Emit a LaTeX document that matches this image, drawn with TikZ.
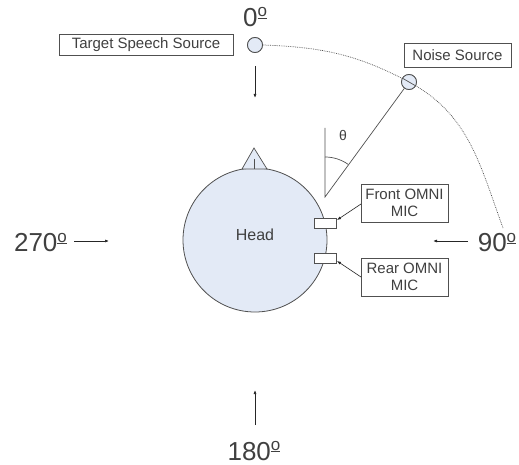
\documentclass[tikz,border=0pt]{standalone}
\usepackage{fontspec}
\setmainfont{Liberation Sans}
\usetikzlibrary{arrows.meta}
\definecolor{headfill}{HTML}{E3EAF6}
\definecolor{txt}{HTML}{404040}
\definecolor{ln}{HTML}{505050}
\newcommand{\ordo}{\raisebox{10pt}{\fontsize{17}{17}\selectfont\underline{o}}}
\begin{document}
\begin{tikzpicture}[x=1pt,y=1pt,
  lbl/.style={draw=ln,line width=0.8pt,fill=white,text=txt,inner sep=0pt,font=\fontsize{15}{17}\selectfont,align=center},
  big/.style={text=txt,font=\fontsize{26}{28}\selectfont,inner sep=0pt},
  src/.style={circle,draw=ln,fill=headfill,line width=0.8pt,minimum size=15pt,inner sep=0pt},
  mic/.style={draw=ln,fill=white,line width=0.8pt,minimum width=22pt,minimum height=10pt,inner sep=0pt},
  arr/.style={-{Latex[length=4pt,width=3pt]},line width=0.7pt,draw=black!85},
  thin/.style={line width=0.7pt,draw=ln},
  dots/.style={line width=0.7pt,draw=ln,dash pattern=on 0.8pt off 1pt}]
\useasboundingbox (0,0) rectangle (519,464);
% head
\node[circle,draw=ln,fill=headfill,line width=0.8pt,minimum size=144pt,inner sep=0pt] (head) at (255,224) {};
\node[text=txt,font=\fontsize{16}{18}\selectfont] (headlbl) at (255,229) {Head};
% nose
\coordinate (napex) at (254,316);
\coordinate (nl) at (242,295);
\coordinate (nr) at (267,295);
\coordinate (nt) at (254,305);
\coordinate (nb) at (254,295);
\draw[thin,fill=headfill] (nl) -- (napex) -- (nr) -- cycle;
\draw[thin] (nt) -- (nb);
% dotted arc
\coordinate (arcend) at (503,236);
\node[src] (tss) at (255,419) {};
\node[src] (noise) at (409,382) {};
\draw[dots] (tss.east) to[out=-2,in=152] (noise.center);
\draw[dots] (noise.center) to[out=-28,in=110] (arcend);
\node[src] (tss2) at (255,419) {};
\node[src] (noise2) at (409,382) {};
\draw[thin] (noise2.150) -- (noise2.-30);
% labels
\node[big,anchor=base] (zero) at (255,437) {0\ordo};
\node[lbl,minimum width=174pt,minimum height=21pt] (tsslbl) at (146,419) {Target Speech Source};
\node[lbl,minimum width=107pt,minimum height=24pt] (noiselbl) at (457.5,409) {Noise Source};
% arrow from target
\coordinate (ta) at (255,398);
\coordinate (tb) at (255,366);
\draw[arr] (ta) -- (tb);
% angle
\coordinate (vtx) at (325,267);
\coordinate (vtop) at (325,336);
\draw[thin] (vtop) -- (vtx) -- (noise2);
\draw[thin] (325,307) arc[start angle=90,end angle=55,radius=40pt];
\node[text=txt,font=\fontsize{14}{16}\selectfont] (theta) at (343,328) {θ};
% mics
\node[mic] (fmic) at (325,241) {};
\node[mic] (rmic) at (325,205.5) {};
\node[lbl,minimum width=87pt,minimum height=38pt] (fbox) at (404.5,261) {Front OMNI\\MIC};
\node[lbl,minimum width=87pt,minimum height=38pt] (rbox) at (404.5,187) {Rear OMNI\\MIC};
\coordinate (fa) at (361,260);
\coordinate (fb) at (337,244);
\coordinate (ra) at (361,187);
\coordinate (rb) at (337,203);
\draw[arr,line width=0.6pt] (fa) -- (fb);
\draw[arr,line width=0.6pt] (ra) -- (rb);
% side arrows
\node[big,anchor=base] (d270) at (40.5,212) {270\ordo};
\coordinate (la) at (74,223);
\coordinate (lb) at (109,223);
\draw[arr] (la) -- (lb);
\node[big,anchor=base] (d90) at (497,212) {90\ordo};
\coordinate (rra) at (468,223);
\coordinate (rrb) at (433,223);
\draw[arr] (rra) -- (rrb);
\node[big,anchor=base] (d180) at (254,4) {180\ordo};
\coordinate (ba) at (255,39);
\coordinate (bb) at (255,74);
\draw[arr] (ba) -- (bb);
\end{tikzpicture}
\end{document}
